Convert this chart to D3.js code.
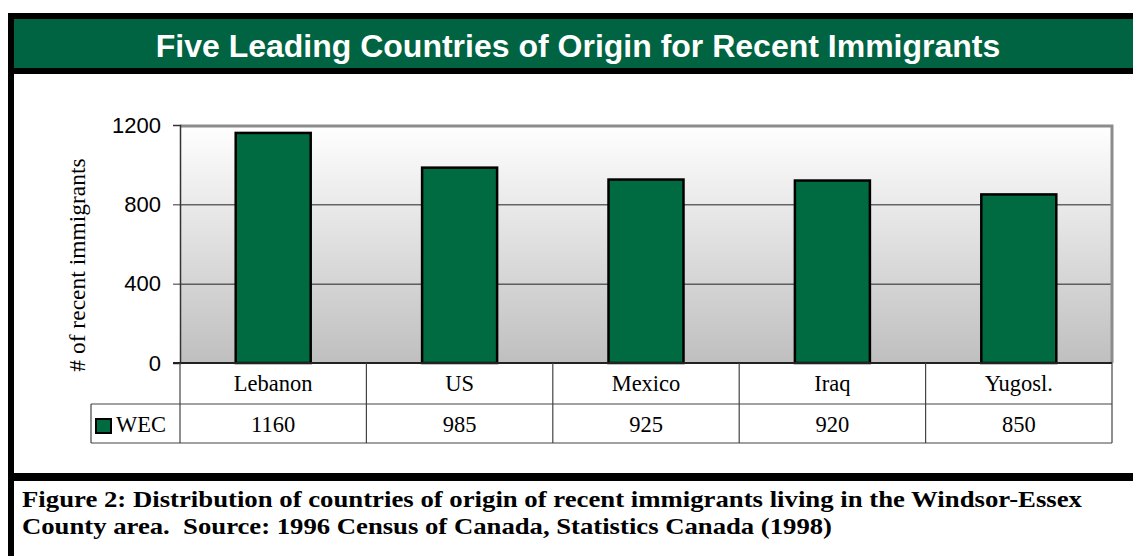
<!DOCTYPE html>
<html>
<head>
<meta charset="utf-8">
<script src="https://cdn.jsdelivr.net/npm/d3@7"></script>
<style>
  html, body { margin: 0; padding: 0; background: #fff; }
  svg { display: block; }
</style>
</head>
<body>
<svg id="chart" width="1133" height="556"></svg>
<script>
// Recent immigrants to Windsor-Essex County, 1996 Census
const categories = ["Lebanon", "US", "Mexico", "Iraq", "Yugosl."];
const seriesName = "WEC";
const values = [1160, 985, 925, 920, 850];
const yTicks = [0, 400, 800, 1200];

const titleText = "Five Leading Countries of Origin for Recent Immigrants";
const yTitle = "# of recent immigrants";
const captionLines = [
  "Figure 2: Distribution of countries of origin of recent immigrants living in the Windsor-Essex",
  "County area.  Source: 1996 Census of Canada, Statistics Canada (1998)"
];
const captionWidths = [1060, 810];

const svg = d3.select("#chart");
const green = "#006b40";
const headerGreen = "#006341";
const sans = "Liberation Sans, Arial, sans-serif";
const serif = "Liberation Serif, Times New Roman, serif";

// Frame: black border, green header band, black separators
svg.append("rect").attr("x", 8).attr("y", 13).attr("width", 1125).attr("height", 6).attr("fill", "#000");
svg.append("rect").attr("x", 8).attr("y", 19).attr("width", 1125).attr("height", 49).attr("fill", headerGreen);
svg.append("rect").attr("x", 8).attr("y", 68).attr("width", 1125).attr("height", 6).attr("fill", "#000");
svg.append("rect").attr("x", 8).attr("y", 13).attr("width", 6).attr("height", 543).attr("fill", "#000");
svg.append("rect").attr("x", 8).attr("y", 473).attr("width", 1125).attr("height", 8).attr("fill", "#000");

svg.append("text")
  .attr("x", 578).attr("y", 57)
  .attr("text-anchor", "middle")
  .attr("font-family", sans)
  .attr("font-weight", "bold")
  .attr("font-size", 32)
  .attr("fill", "#fff")
  .text(titleText);

// Plot geometry
const plotL = 180, plotR = 1112, plotT = 125, plotB = 363;
const x = d3.scaleBand().domain(categories).range([plotL, plotR]).paddingInner(0).paddingOuter(0);
const y = d3.scaleLinear().domain([0, 1200]).range([plotB, plotT]);

// Plot area background gradient
const defs = svg.append("defs");
const grad = defs.append("linearGradient").attr("id", "plotBg")
  .attr("x1", 0).attr("y1", 0).attr("x2", 0).attr("y2", 1);
grad.append("stop").attr("offset", "0%").attr("stop-color", "#ffffff");
grad.append("stop").attr("offset", "100%").attr("stop-color", "#bfbfbf");

svg.append("rect")
  .attr("x", plotL).attr("y", plotT)
  .attr("width", plotR - plotL).attr("height", plotB - plotT)
  .attr("fill", "url(#plotBg)");

// Gridlines
svg.append("g").selectAll("line")
  .data(yTicks.filter(d => d > 0 && d < 1200))
  .join("line")
  .attr("x1", plotL).attr("x2", plotR)
  .attr("y1", d => y(d) + 0.5).attr("y2", d => y(d) + 0.5)
  .attr("stroke", "#222").attr("stroke-width", 1);

// Plot border (top and right, gray)
svg.append("path")
  .attr("d", `M${plotL},${plotT + 1}H${plotR}V${plotB}`)
  .attr("fill", "none").attr("stroke", "#8c8c8c").attr("stroke-width", 3);

// Bars
const barW = 75;
svg.append("g").selectAll("rect")
  .data(values)
  .join("rect")
  .attr("x", (d, i) => x(categories[i]) + x.bandwidth() / 2 - barW / 2)
  .attr("y", d => y(d))
  .attr("width", barW)
  .attr("height", d => plotB - y(d))
  .attr("fill", green)
  .attr("stroke", "#000")
  .attr("stroke-width", 2.5);

// Y axis
const yAxis = d3.axisLeft(y).tickValues(yTicks).tickSize(7).tickPadding(12).tickFormat(d3.format("d"));
const gy = svg.append("g").attr("transform", `translate(${plotL},0)`).call(yAxis);
gy.select(".domain").attr("stroke", "#333").attr("stroke-width", 1.5);
gy.selectAll(".tick line").attr("stroke", "#333");
gy.selectAll(".tick text")
  .attr("font-family", sans)
  .attr("font-size", 22)
  .attr("fill", "#000");

// Baseline
svg.append("line")
  .attr("x1", plotL - 7).attr("x2", plotR)
  .attr("y1", plotB).attr("y2", plotB)
  .attr("stroke", "#222").attr("stroke-width", 2);

// Y axis title
svg.append("text")
  .attr("transform", `translate(85,265) rotate(-90)`)
  .attr("text-anchor", "middle")
  .attr("font-family", serif)
  .attr("font-size", 23.5)
  .attr("fill", "#000")
  .text(yTitle);

// Data table under the chart
const rowMid = 404, rowBot = 443, legendLeft = 91;
const tbl = svg.append("g").attr("stroke", "#444").attr("stroke-width", 1.2);
tbl.append("line").attr("x1", plotL).attr("x2", plotR).attr("y1", rowMid).attr("y2", rowMid);
tbl.append("line").attr("x1", legendLeft).attr("x2", plotL).attr("y1", rowMid).attr("y2", rowMid);
tbl.append("line").attr("x1", legendLeft).attr("x2", plotR).attr("y1", rowBot).attr("y2", rowBot);
tbl.append("line").attr("x1", legendLeft).attr("x2", legendLeft).attr("y1", rowMid).attr("y2", rowBot);
tbl.append("line").attr("x1", plotL).attr("x2", plotL).attr("y1", plotB).attr("y2", rowBot);
tbl.append("line").attr("x1", plotR).attr("x2", plotR).attr("y1", plotB).attr("y2", rowBot);
tbl.selectAll(".sep")
  .data(categories.slice(1))
  .join("line")
  .attr("x1", d => x(d)).attr("x2", d => x(d))
  .attr("y1", plotB).attr("y2", rowBot);

svg.append("g").selectAll("text")
  .data(categories)
  .join("text")
  .attr("x", d => x(d) + x.bandwidth() / 2)
  .attr("y", 391)
  .attr("text-anchor", "middle")
  .attr("font-family", serif).attr("font-size", 22.5)
  .text(d => d);

svg.append("g").selectAll("text")
  .data(values)
  .join("text")
  .attr("x", (d, i) => x(categories[i]) + x.bandwidth() / 2)
  .attr("y", 432)
  .attr("text-anchor", "middle")
  .attr("font-family", serif).attr("font-size", 22.5)
  .text(d => d);

// Legend key
svg.append("rect")
  .attr("x", 96).attr("y", 419).attr("width", 15).attr("height", 14)
  .attr("fill", green).attr("stroke", "#000").attr("stroke-width", 2);
svg.append("text")
  .attr("x", 116).attr("y", 432)
  .attr("font-family", serif).attr("font-size", 22.5)
  .text(seriesName);

// Caption
svg.append("g").selectAll("text")
  .data(captionLines)
  .join("text")
  .attr("x", 22)
  .attr("y", (d, i) => 507 + i * 27)
  .attr("font-family", serif)
  .attr("font-weight", "bold")
  .attr("font-size", 24)
  .attr("textLength", (d, i) => captionWidths[i])
  .attr("lengthAdjust", "spacingAndGlyphs")
  .style("white-space", "pre")
  .text(d => d);
</script>
</body>
</html>
